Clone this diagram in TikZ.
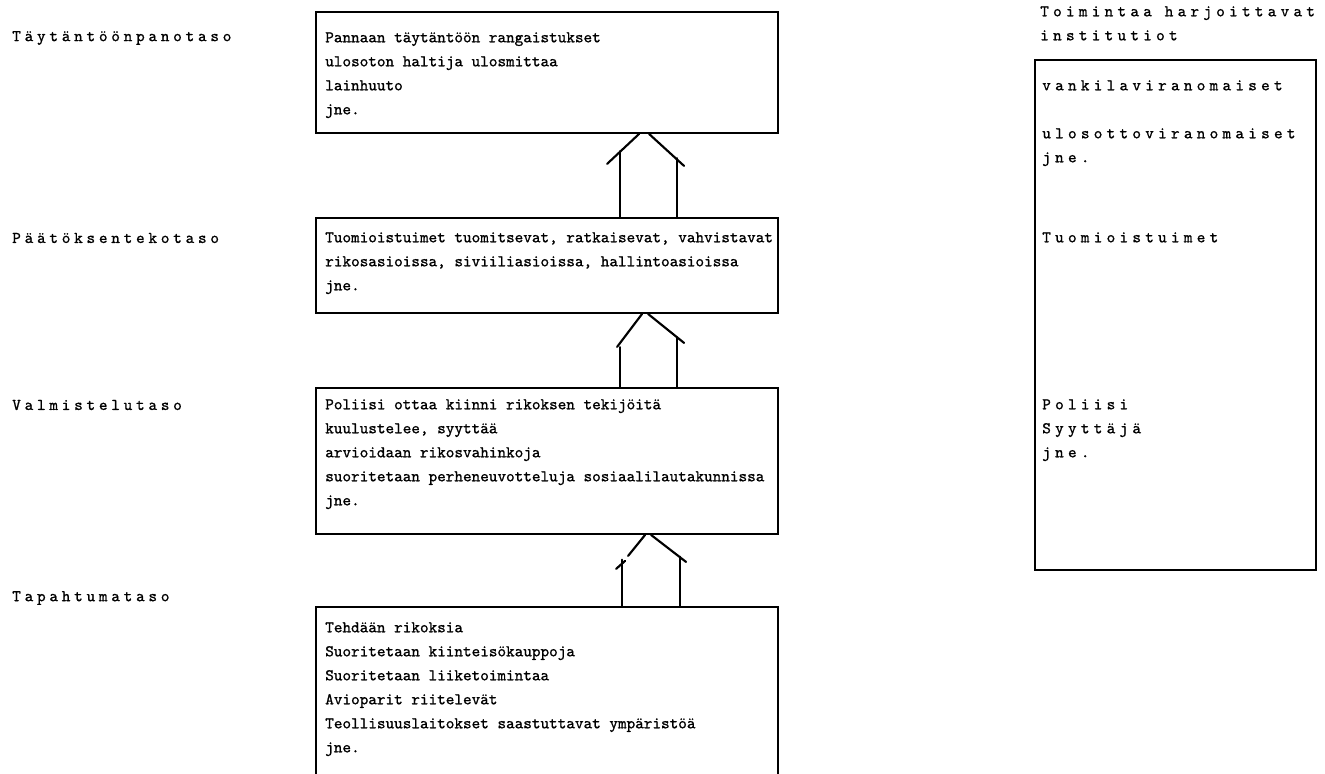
\documentclass[tikz,border=0pt]{standalone}
\usepackage{fontspec}
\newfontfamily\twfont{lmmono10-regular.otf}[FakeBold=1]
\newfontfamily\twwide{lmmono10-regular.otf}[FakeBold=1,LetterSpace=23]
\newfontfamily\twwider{lmmono10-regular.otf}[FakeBold=1,LetterSpace=26]
\usetikzlibrary{fit,calc}
\begin{document}
\begin{tikzpicture}[x=0.75pt,y=-0.75pt,
  box/.style={draw, line width=1.4pt, inner sep=0pt},
  tw/.style={font=\fontsize{12.3}{18}\twfont},
  wide/.style={font=\fontsize{12.3}{18}\twwide},
  wider/.style={font=\fontsize{12.3}{18}\twwider},
  txt/.style={tw, align=left, anchor=north west, inner sep=0pt},
  wtxt/.style={wider, align=left, anchor=north west, inner sep=0pt},
  lvl/.style={wide, anchor=west, inner sep=0pt},
  up/.style={line width=1.6pt, line cap=round}]
\useasboundingbox (0,0) rectangle (1325,774);
% level labels
\node[lvl] (l1) at (12,38) {Täytäntöönpanotaso};
\node[lvl] (l2) at (12,238) {Päätöksentekotaso};
\node[lvl] (l3) at (12,405) {Valmistelutaso};
\node[lvl] (l4) at (12,598) {Tapahtumataso};
% central boxes
\node[box, fit={(316,12) (778,133)}] (b1) {};
\node[box, fit={(316,218) (778,313)}] (b2) {};
\node[box, fit={(316,388) (778,534)}] (b3) {};
\node[inner sep=0pt, fit={(316,607) (778,774)}] (b4) {};
\draw[line width=1.4pt] (b4.south west) -- (b4.north west) -- (b4.north east) -- (b4.south east);
\node[txt] (t1) at (325,32) {Pannaan täytäntöön rangaistukset\\ulosoton haltija ulosmittaa\\lainhuuto\\jne.};
\node[txt] (t2) at (325,232) {Tuomioistuimet tuomitsevat, ratkaisevat, vahvistavat\\rikosasioissa, siviiliasioissa, hallintoasioissa\\jne.};
\node[txt] (t3) at (325,399) {Poliisi ottaa kiinni rikoksen tekijöitä\\kuulustelee, syyttää\\arvioidaan rikosvahinkoja\\suoritetaan perheneuvotteluja sosiaalilautakunnissa\\jne.};
\node[txt] (t4) at (325,622) {Tehdään rikoksia\\Suoritetaan kiinteisökauppoja\\Suoritetaan liiketoimintaa\\Avioparit riitelevät\\Teollisuuslaitokset saastuttavat ympäristöä\\jne.};
% right column
\node[wtxt] (h) at (1040,6) {Toimintaa harjoittavat\\institutiot};
\node[box, fit={(1035,60) (1316,570)}] (r) {};
\node[wtxt] (r1) at (1042,80) {vankilaviranomaiset};
\node[wtxt] (r2) at (1042,128) {ulosottoviranomaiset\\jne.};
\node[wtxt] (r3) at (1042,232) {Tuomioistuimet};
\node[wtxt] (r4) at (1042,399) {Poliisi\\Syyttäjä\\jne.};
% arrow 1 (b2 -> b1)
\coordinate (p1) at ($(b1.south west)+(328,0)$);
\draw[up] (p1) ++(-4,0) -- ++(-32,30);
\draw[up] (p1) ++(6,0) -- ++(35,32);
\draw[up] ($(b2.north west)+(305,0)$) -- ++(0,-66);
\draw[up] ($(b2.north west)+(362,0)$) -- ++(0,-59);
% arrow 2 (b3 -> b2)
\coordinate (p2) at ($(b2.south west)+(329,0)$);
\draw[up] (p2) ++(-2,0) -- ++(-25,33);
\draw[up] (p2) ++(4,0) -- ++(36,29);
\draw[up] ($(b3.north west)+(305,0)$) -- ++(0,-40);
\draw[up] ($(b3.north west)+(362,0)$) -- ++(0,-50);
% arrow 3 (b4 -> b3)
\coordinate (p3) at ($(b3.south west)+(332,0)$);
\draw[up] (p3) ++(-2,0) -- ++(-17,21);
\draw[up] (p3) ++(-22,26) -- ++(-9,8);
\draw[up] (p3) ++(4,0) -- ++(35,27);
\draw[up] ($(b4.north west)+(306,0)$) -- ++(0,-47);
\draw[up] ($(b4.north west)+(364,0)$) -- ++(0,-50);
\end{tikzpicture}
\end{document}
